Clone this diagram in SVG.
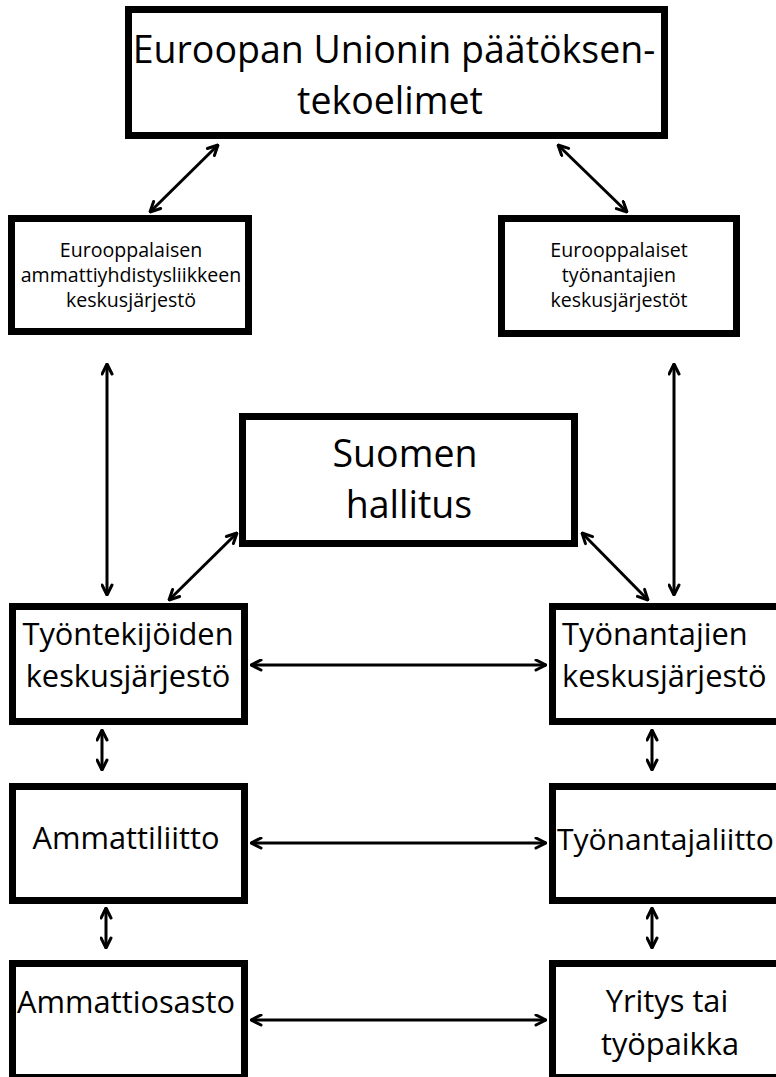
<svg xmlns="http://www.w3.org/2000/svg" width="776" height="1077" viewBox="0 0 776 1077">
<defs>
<style>
.box{fill:#fff;stroke:#000;stroke-width:7}
.t{font-family:"Open Sans","Noto Sans","DejaVu Sans",sans-serif;fill:#000}
.c{text-anchor:middle}
.s{text-anchor:start}
.f36{font-size:37.5px}
.f30{font-size:30.8px}
.f18{font-size:19.6px}
.con{stroke:#000;stroke-width:3;fill:none;marker-start:url(#ah);marker-end:url(#ah)}
</style>
<marker id="ah" viewBox="0 0 13 13" refX="12" refY="6.5" markerWidth="13" markerHeight="13" markerUnits="userSpaceOnUse" orient="auto-start-reverse">
<path d="M2,1.5 L12,6.5 L2,11.5" fill="none" stroke="#000" stroke-width="3" stroke-linecap="round" stroke-linejoin="round"/>
</marker>
</defs>
<rect width="776" height="1077" fill="#fff"/>
<g id="connectors">
<line class="con" x1="218" y1="145" x2="150" y2="212"/>
<line class="con" x1="558" y1="145" x2="627" y2="212"/>
<line class="con" x1="107" y1="364" x2="107" y2="595"/>
<line class="con" x1="674" y1="364" x2="674" y2="595"/>
<line class="con" x1="237" y1="533" x2="169" y2="600"/>
<line class="con" x1="582" y1="533" x2="648" y2="600"/>
<line class="con" x1="251" y1="665" x2="546" y2="665"/>
<line class="con" x1="102" y1="730" x2="102" y2="770"/>
<line class="con" x1="652" y1="730" x2="652" y2="770"/>
<line class="con" x1="251" y1="843" x2="546" y2="843"/>
<line class="con" x1="106" y1="908" x2="106" y2="948"/>
<line class="con" x1="652" y1="908" x2="652" y2="948"/>
<line class="con" x1="251" y1="1020" x2="546" y2="1020"/>
</g>
<g id="eu">
<rect class="box" x="128.5" y="9.5" width="536" height="126"/>
<text class="t c f36" x="394" y="63">Euroopan Unionin päätöksen-</text>
<text class="t c f36" x="390" y="114">tekoelimet</text>
</g>
<g id="etuc">
<rect class="box" x="11.5" y="218.5" width="237" height="113"/>
<text class="t c f18" x="131" y="257">Eurooppalaisen</text>
<text class="t c f18" x="131" y="282">ammattiyhdistysliikkeen</text>
<text class="t c f18" x="131" y="307">keskusjärjestö</text>
</g>
<g id="eu-employers">
<rect class="box" x="501.5" y="218.5" width="235" height="115"/>
<text class="t c f18" x="619" y="257">Eurooppalaiset</text>
<text class="t c f18" x="619" y="282">työnantajien</text>
<text class="t c f18" x="619" y="307">keskusjärjestöt</text>
</g>
<g id="government">
<rect class="box" x="242.5" y="416.5" width="332" height="127"/>
<text class="t c f36" x="405" y="467">Suomen</text>
<text class="t c f36" x="409" y="518">hallitus</text>
</g>
<g id="workers-central">
<rect class="box" x="12.5" y="606.5" width="232" height="115"/>
<text class="t c f30" x="128" y="645">Työntekijöiden</text>
<text class="t c f30" x="128" y="687">keskusjärjestö</text>
</g>
<g id="employers-central">
<rect class="box" x="552.5" y="606.5" width="250" height="115"/>
<text class="t s f30" x="562" y="645">Työnantajien</text>
<text class="t s f30" x="562" y="687">keskusjärjestö</text>
</g>
<g id="union">
<rect class="box" x="12.5" y="786.5" width="232" height="114"/>
<text class="t c f30" x="126" y="849">Ammattiliitto</text>
</g>
<g id="employers-union">
<rect class="box" x="552.5" y="786.5" width="250" height="114"/>
<text class="t s" style="font-size:30px" x="557" y="850">Työnantajaliitto</text>
</g>
<g id="branch">
<rect class="box" x="12.5" y="963.5" width="232" height="114"/>
<text class="t c f30" x="126" y="1013">Ammattiosasto</text>
</g>
<g id="company">
<rect class="box" x="552.5" y="963.5" width="250" height="114"/>
<text class="t c f30" x="667" y="1012">Yritys tai</text>
<text class="t c f30" x="670" y="1055">työpaikka</text>
</g>
</svg>
